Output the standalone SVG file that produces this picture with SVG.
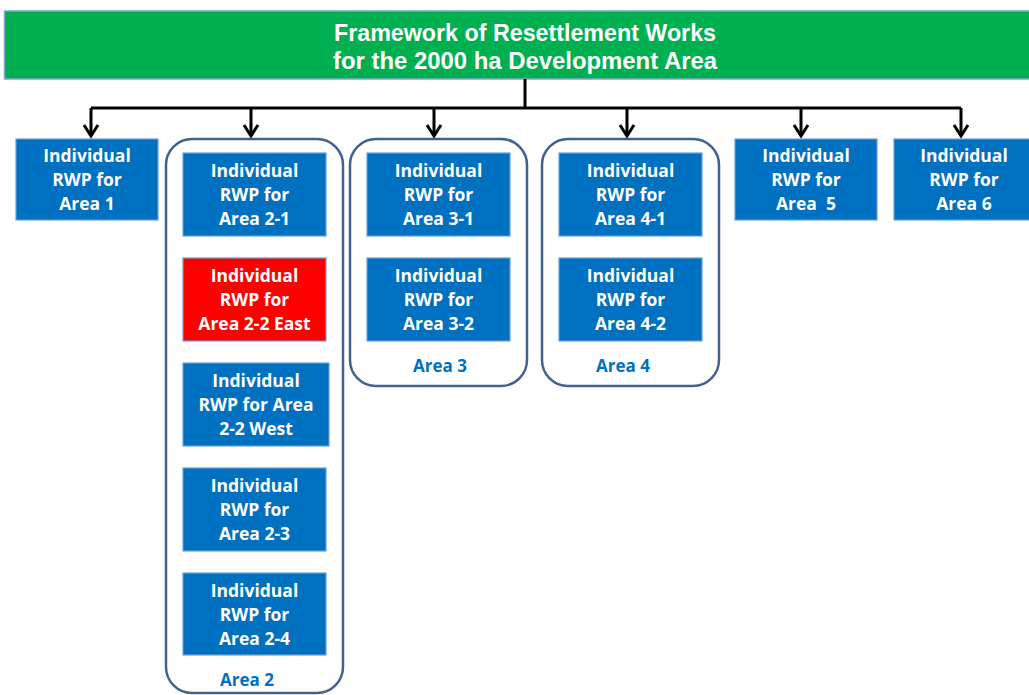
<svg xmlns="http://www.w3.org/2000/svg" width="1029" height="695" viewBox="0 0 1029 695">
  <defs>
    <style>
      .banner { fill: #00B050; stroke: #7FA7CF; stroke-width: 1.5; }
      .title { font-family: "Liberation Sans", Arial, sans-serif; font-weight: bold; font-size: 23px; fill: #FFFFFF; text-anchor: middle; }
      .box { fill: #0070C0; stroke: #6A9FD6; stroke-width: 1.2; }
      .box-red { fill: #FF0000; stroke: #6A9FD6; stroke-width: 1.2; }
      .label { font-family: "Open Sans", "DejaVu Sans", sans-serif; font-weight: bold; font-size: 17.5px; fill: #FFFFFF; text-anchor: middle; }
      .group-frame { fill: #FFFFFF; stroke: #41618F; stroke-width: 2.5; }
      .group-label { font-family: "Open Sans", "DejaVu Sans", sans-serif; font-weight: bold; font-size: 17px; fill: #0070C0; text-anchor: middle; }
      .wire { fill: none; stroke: #000000; stroke-width: 3; }
      .head { fill: none; stroke: #000000; stroke-width: 3; stroke-linejoin: miter; }
    </style>
  </defs>

  <rect width="1029" height="695" fill="#FFFFFF"/>

  <!-- title banner -->
  <g id="title">
    <rect class="banner" x="4.5" y="11" width="1030" height="68"/>
    <text class="title" x="525" y="41" textLength="382" lengthAdjust="spacingAndGlyphs">Framework of Resettlement Works</text>
    <text class="title" x="525" y="69" textLength="384" lengthAdjust="spacingAndGlyphs">for the 2000 ha Development Area</text>
  </g>

  <!-- connectors -->
  <g id="connectors">
    <path class="wire" d="M525 79 V108 M91 108 H961 M91 108 V136 M251 108 V136 M434 108 V136 M627 108 V136 M801 108 V136 M961 108 V136"/>
    <path class="head" d="M84 125 L91 136 L98 125"/>
    <path class="head" d="M244 125 L251 136 L258 125"/>
    <path class="head" d="M427 125 L434 136 L441 125"/>
    <path class="head" d="M620 125 L627 136 L634 125"/>
    <path class="head" d="M794 125 L801 136 L808 125"/>
    <path class="head" d="M954 125 L961 136 L968 125"/>
  </g>

  <!-- Area 1 -->
  <g id="area1">
    <rect class="box" x="16" y="139" width="142" height="81"/>
    <text class="label" x="87" y="162">Individual</text>
    <text class="label" x="87" y="186">RWP for</text>
    <text class="label" x="87" y="210">Area 1</text>
  </g>

  <!-- Area 2 group -->
  <g id="area2">
    <rect class="group-frame" x="166" y="139" width="177" height="554" rx="26" ry="26"/>
    <text class="group-label" x="247" y="686">Area 2</text>
  </g>
  <g id="area2-1">
    <rect class="box" x="183" y="153" width="143" height="83"/>
    <text class="label" x="254.5" y="177">Individual</text>
    <text class="label" x="254.5" y="201">RWP for</text>
    <text class="label" x="254.5" y="225">Area 2-1</text>
  </g>
  <g id="area2-2-east">
    <rect class="box-red" x="183" y="258" width="143" height="83"/>
    <text class="label" x="254.5" y="282">Individual</text>
    <text class="label" x="254.5" y="306">RWP for</text>
    <text class="label" x="254.5" y="330">Area 2-2 East</text>
  </g>
  <g id="area2-2-west">
    <rect class="box" x="183" y="363" width="146" height="83"/>
    <text class="label" x="256" y="387">Individual</text>
    <text class="label" x="256" y="411">RWP for Area</text>
    <text class="label" x="256" y="435">2-2 West</text>
  </g>
  <g id="area2-3">
    <rect class="box" x="183" y="468" width="143" height="83"/>
    <text class="label" x="254.5" y="492">Individual</text>
    <text class="label" x="254.5" y="516">RWP for</text>
    <text class="label" x="254.5" y="540">Area 2-3</text>
  </g>
  <g id="area2-4">
    <rect class="box" x="183" y="573" width="143" height="82"/>
    <text class="label" x="254.5" y="597">Individual</text>
    <text class="label" x="254.5" y="621">RWP for</text>
    <text class="label" x="254.5" y="645">Area 2-4</text>
  </g>

  <!-- Area 3 group -->
  <g id="area3">
    <rect class="group-frame" x="350" y="139" width="177" height="247" rx="26" ry="26"/>
    <text class="group-label" x="440" y="372">Area 3</text>
  </g>
  <g id="area3-1">
    <rect class="box" x="367" y="153" width="143" height="83"/>
    <text class="label" x="438.5" y="177">Individual</text>
    <text class="label" x="438.5" y="201">RWP for</text>
    <text class="label" x="438.5" y="225">Area 3-1</text>
  </g>
  <g id="area3-2">
    <rect class="box" x="367" y="258" width="143" height="83"/>
    <text class="label" x="438.5" y="282">Individual</text>
    <text class="label" x="438.5" y="306">RWP for</text>
    <text class="label" x="438.5" y="330">Area 3-2</text>
  </g>

  <!-- Area 4 group -->
  <g id="area4">
    <rect class="group-frame" x="542" y="139" width="177" height="247" rx="26" ry="26"/>
    <text class="group-label" x="623" y="372">Area 4</text>
  </g>
  <g id="area4-1">
    <rect class="box" x="559" y="153" width="143" height="83"/>
    <text class="label" x="630.5" y="177">Individual</text>
    <text class="label" x="630.5" y="201">RWP for</text>
    <text class="label" x="630.5" y="225">Area 4-1</text>
  </g>
  <g id="area4-2">
    <rect class="box" x="559" y="258" width="143" height="83"/>
    <text class="label" x="630.5" y="282">Individual</text>
    <text class="label" x="630.5" y="306">RWP for</text>
    <text class="label" x="630.5" y="330">Area 4-2</text>
  </g>

  <!-- Area 5 -->
  <g id="area5">
    <rect class="box" x="735" y="139" width="142" height="81"/>
    <text class="label" x="806" y="162">Individual</text>
    <text class="label" x="806" y="186">RWP for</text>
    <text class="label" x="806" y="210" xml:space="preserve">Area  5</text>
  </g>

  <!-- Area 6 -->
  <g id="area6">
    <rect class="box" x="894" y="139" width="142" height="81"/>
    <text class="label" x="964" y="162">Individual</text>
    <text class="label" x="964" y="186">RWP for</text>
    <text class="label" x="964" y="210">Area 6</text>
  </g>
</svg>
